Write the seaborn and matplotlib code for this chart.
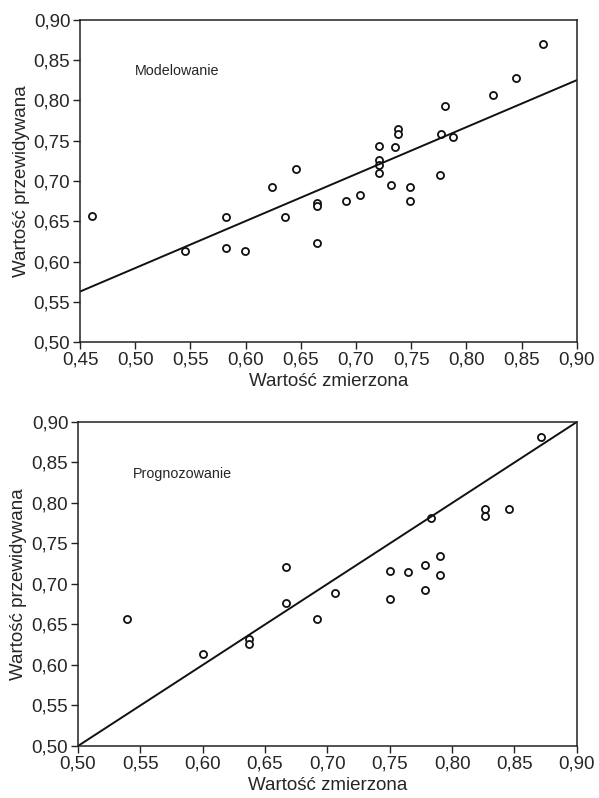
import numpy as np
import pandas as pd
import seaborn as sns
import matplotlib
matplotlib.use("Agg")
import matplotlib.pyplot as plt

# modelowanie (uczenie)
model_zmierzona = [0.461, 0.545, 0.582, 0.582, 0.599, 0.624, 0.636, 0.646,
                   0.665, 0.665, 0.665, 0.691, 0.704, 0.721, 0.721, 0.721,
                   0.721, 0.732, 0.735, 0.738, 0.738, 0.749, 0.749, 0.776,
                   0.777, 0.781, 0.788, 0.824, 0.845, 0.869]
model_przewidywana = [0.657, 0.613, 0.655, 0.617, 0.613, 0.693, 0.655, 0.715,
                      0.673, 0.669, 0.623, 0.675, 0.683, 0.743, 0.726, 0.720,
                      0.710, 0.695, 0.742, 0.765, 0.758, 0.693, 0.675, 0.707,
                      0.758, 0.793, 0.755, 0.807, 0.828, 0.870]

# prognozowanie (test)
prog_zmierzona = [0.539, 0.600, 0.637, 0.637, 0.667, 0.667, 0.692, 0.706,
                  0.871, 0.783, 0.826, 0.826, 0.846, 0.750, 0.765, 0.778,
                  0.790, 0.790, 0.778, 0.750]
prog_przewidywana = [0.657, 0.614, 0.632, 0.626, 0.721, 0.677, 0.657, 0.689,
                     0.881, 0.781, 0.792, 0.784, 0.793, 0.716, 0.715, 0.724,
                     0.734, 0.711, 0.692, 0.682]

model = pd.DataFrame({"x": model_zmierzona, "y": model_przewidywana})
prog = pd.DataFrame({"x": prog_zmierzona, "y": prog_przewidywana})

x_ticks_top = [0.45, 0.50, 0.55, 0.60, 0.65, 0.70, 0.75, 0.80, 0.85, 0.90]
x_ticks_bottom = [0.50, 0.55, 0.60, 0.65, 0.70, 0.75, 0.80, 0.85, 0.90]
y_ticks = [0.50, 0.55, 0.60, 0.65, 0.70, 0.75, 0.80, 0.85, 0.90]

sns.set_style("ticks")
plt.rcParams["font.family"] = ["Liberation Sans", "DejaVu Sans"]

fig = plt.figure(figsize=(5.99, 7.98), dpi=100)
ax1 = fig.add_axes([0.1336, 0.5714, 0.8294, 0.4036])
ax2 = fig.add_axes([0.1302, 0.0652, 0.8328, 0.4060])


def fmt(v):
    return f"{v:.2f}".replace(".", ",")


def style(ax, xticks):
    ax.set_xticks(xticks)
    ax.set_xticklabels([fmt(v) for v in xticks], fontsize=13.5)
    ax.set_yticks(y_ticks)
    ax.set_yticklabels([fmt(v) for v in y_ticks], fontsize=13.5)
    ax.set_xlim(xticks[0], xticks[-1])
    ax.set_ylim(0.50, 0.90)
    ax.tick_params(direction="out", length=5, width=1, color="#222222", pad=2)
    for s in ax.spines.values():
        s.set_visible(True)
        s.set_linewidth(1.1)
        s.set_color("#222222")
    ax.set_xlabel("Wartość zmierzona", fontsize=13.5, labelpad=3)
    ax.set_ylabel("Wartość przewidywana", fontsize=13.5, labelpad=3)


pts = dict(facecolors="white", edgecolors="#111111", linewidths=1.3, s=26)

ax1.set_xlim(x_ticks_top[0], x_ticks_top[-1])
sns.regplot(data=model, x="x", y="y", ax=ax1, ci=None, truncate=False,
            scatter_kws=dict(alpha=1, **pts),
            line_kws=dict(color="#111111", lw=1.4))
style(ax1, x_ticks_top)
ax1.text(0.50, 0.836, "Modelowanie", fontsize=10.3, va="center")

sns.scatterplot(data=prog, x="x", y="y", ax=ax2, marker="o", **pts)
ax2.axline((0.5, 0.5), slope=1, color="#111111", lw=1.4, zorder=1)
style(ax2, x_ticks_bottom)
ax2.text(0.544, 0.836, "Prognozowanie", fontsize=10.3, va="center")

fig.savefig("out.png", dpi=100)
